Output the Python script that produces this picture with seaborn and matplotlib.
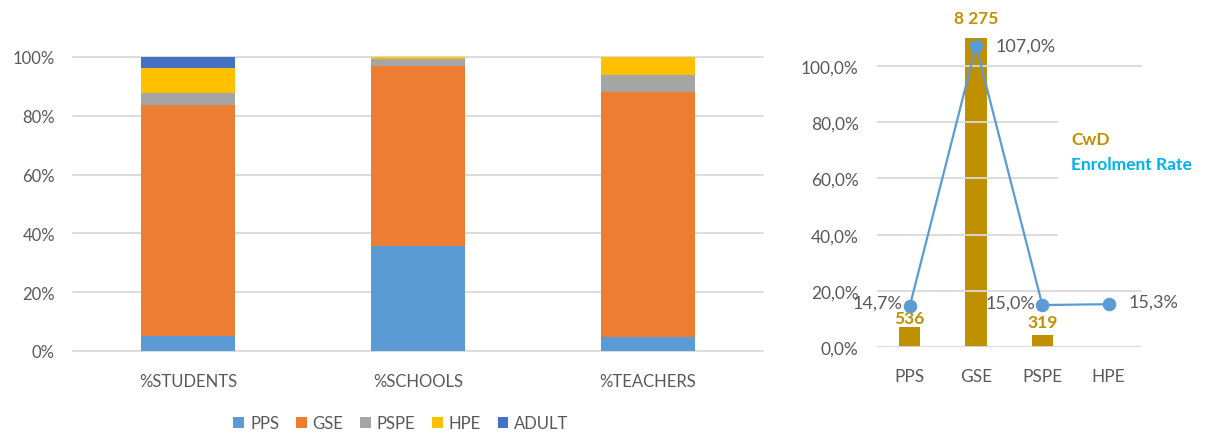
import matplotlib
matplotlib.use("Agg")
import matplotlib.pyplot as plt
from matplotlib.patches import Patch, Rectangle
import seaborn as sns
import numpy as np
import pandas as pd

# ---- data ----
groups = ["%STUDENTS", "%SCHOOLS", "%TEACHERS"]
series_names = ["PPS", "GSE", "PSPE", "HPE", "ADULT"]
pps = [0.050, 0.358, 0.049]
gse = [0.788, 0.611, 0.833]
pspe = [0.041, 0.023, 0.058]
hpe = [0.084, 0.008, 0.060]
adult = [0.037, 0.000, 0.000]
series_colors = ["#5B9BD5", "#ED7D31", "#A5A5A5", "#FFC000", "#4472C4"]

levels = ["PPS", "GSE", "PSPE", "HPE"]
cwd = [536, 8275, 319, np.nan]
cwd_labels = ["536", "8 275", "319", ""]
enrol_rate = [0.147, 1.070, 0.150, 0.153]
enrol_labels = ["14,7%", "107,0%", "15,0%", "15,3%"]

left_yticks = [0, 0.2, 0.4, 0.6, 0.8, 1.0]
left_yticklabels = ["0%", "20%", "40%", "60%", "80%", "100%"]
right_yticks = [0, 0.2, 0.4, 0.6, 0.8, 1.0]
right_yticklabels = ["0,0%", "20,0%", "40,0%", "60,0%", "80,0%", "100,0%"]

# ---- style ----
sns.set_theme(style="white")
plt.rcParams["font.family"] = ["Lato", "DejaVu Sans"]
GRAY = "#595959"
GRID = "#D9D9D9"
GOLD = "#BF9000"
LINE = "#5B9BD5"

W, H = 1207, 435
fig = plt.figure(figsize=(W / 100, H / 100), dpi=100)

def fx(px):
    return px / W

def fy(py):
    return 1 - py / H

# ---- left stacked chart ----
axL = fig.add_axes([fx(73), fy(352), fx(690), 294 / H])
data = {"PPS": pps, "GSE": gse, "PSPE": pspe, "HPE": hpe, "ADULT": adult}
cum = np.zeros(len(groups))
cums = []
for name in series_names:
    cum = cum + np.array(data[name])
    cums.append(cum.copy())
# draw from top layer down so lower segments overlay
for name, c, col in reversed(list(zip(series_names, cums, series_colors))):
    df = pd.DataFrame({"group": groups, "value": c})
    sns.barplot(data=df, x="group", y="value", color=col, width=0.41,
                saturation=1, ax=axL, zorder=3, linewidth=0)
axL.set_ylim(0, 1.0)
axL.set_xlim(-0.5, 2.5)
axL.set_yticks(left_yticks)
axL.set_yticklabels(left_yticklabels)
for y in left_yticks:
    axL.axhline(y, color=GRID, lw=1.3, zorder=1, clip_on=False)
axL.set_xlabel("")
axL.set_ylabel("")
for s in axL.spines.values():
    s.set_visible(False)
axL.tick_params(axis="y", length=0, pad=13, labelsize=12, labelcolor=GRAY)
axL.tick_params(axis="x", length=0, pad=16, labelsize=12, labelcolor=GRAY)

handles = [Patch(facecolor=c, edgecolor="none", label=n) for n, c in zip(series_names, series_colors)]
fig.legend(handles=handles, loc="center", bbox_to_anchor=(fx(401), fy(424)), ncol=5,
           frameon=False, fontsize=12, labelcolor=GRAY, handlelength=0.65,
           handleheight=0.65, handletextpad=0.35, columnspacing=1.0)

# ---- right combo chart ----
axR = fig.add_axes([fx(876.7), fy(348.3), fx(265), 338 / H])
axB = axR.twinx()
dfc = pd.DataFrame({"level": levels, "cwd": cwd})
sns.barplot(data=dfc, x="level", y="cwd", color=GOLD, saturation=1, width=0.32,
            ax=axB, linewidth=0, zorder=2)
axB.set_ylim(0, 9050)
axB.set_yticks([])
axB.set_ylabel("")
for s in axB.spines.values():
    s.set_visible(False)
axB.patch.set_visible(False)

dfe = pd.DataFrame({"level": levels, "rate": enrol_rate})
axR.set_zorder(axB.get_zorder() + 1)
axR.patch.set_visible(False)
sns.lineplot(data=dfe, x="level", y="rate", ax=axR, color=LINE, lw=1.6,
             marker="o", markersize=9, markeredgecolor=LINE, sort=False, zorder=4)
axR.set_ylim(0, 1.2)
axR.set_xlim(-0.5, 3.5)
axB.set_xlim(-0.5, 3.5)
axR.set_yticks(right_yticks)
axR.set_yticklabels(right_yticklabels)
for y in right_yticks:
    axR.axhline(y, color=GRID, lw=1.3, zorder=0)
axR.set_xlabel("")
axR.set_ylabel("")
for s in axR.spines.values():
    s.set_visible(False)
axR.tick_params(axis="y", length=0, pad=13, labelsize=12.5, labelcolor=GRAY)
axR.tick_params(axis="x", length=0, pad=15, labelsize=12.5, labelcolor=GRAY)
axB.tick_params(axis="x", length=0, labelbottom=False)

# bar labels
bar_offsets = [1, 9, 4, 0]
for i, (v, lab) in enumerate(zip(cwd, cwd_labels)):
    if lab:
        axB.annotate(lab, (i, v), xytext=(0, bar_offsets[i]), textcoords="offset points",
                     ha="center", va="bottom", fontsize=12.5, fontweight="bold", color=GOLD)
# line labels
label_offsets = [(-5, 2, "right"), (14, 0, "left"), (-5, 2, "right"), (14, 2, "left")]
for i, (v, lab) in enumerate(zip(enrol_rate, enrol_labels)):
    dx, dy, ha = label_offsets[i]
    axR.annotate(lab, (i, v), xytext=(dx, dy), textcoords="offset points",
                 ha=ha, va="center", fontsize=13, color=GRAY, zorder=6)

# white text box covering gridlines
fig.patches.append(Rectangle((fx(1058), fy(252)), fx(149), (252 - 110) / H,
                             transform=fig.transFigure, facecolor="white",
                             edgecolor="none", zorder=1))
fig.text(fx(1071), fy(140), "CwD", color=GOLD, fontsize=12.5, fontweight="bold",
         va="center", ha="left", zorder=2)
fig.text(fx(1071), fy(165), "Enrolment Rate", color="#00B0F0", fontsize=12.5,
         fontweight="bold", va="center", ha="left", zorder=2)

fig.savefig("out.png", dpi=100)
